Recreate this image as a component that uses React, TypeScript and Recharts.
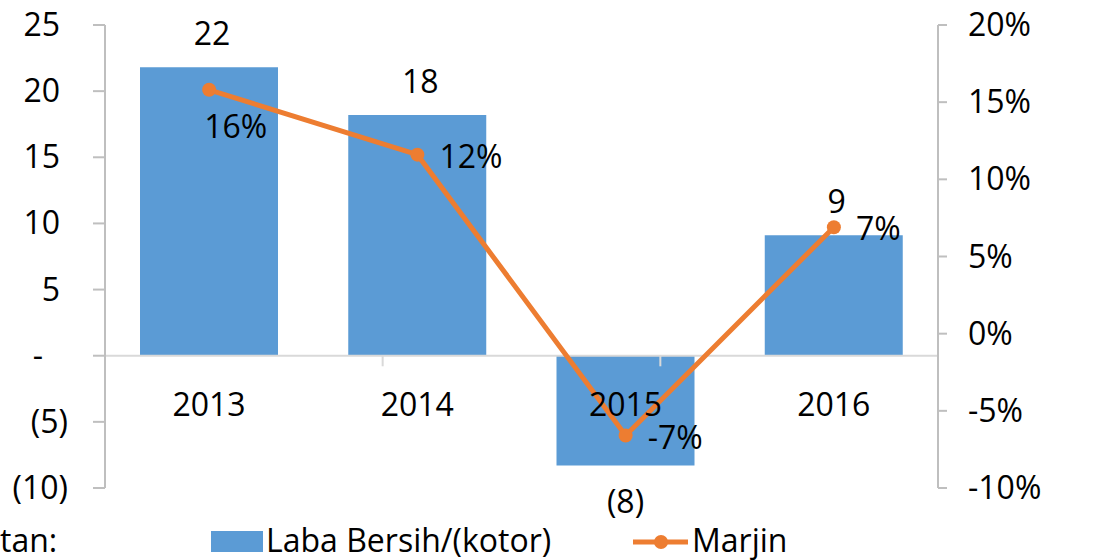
import React from 'react';
import {
  ComposedChart,
  Bar,
  Line,
  XAxis,
  YAxis,
  ReferenceLine,
  LabelList,
} from 'recharts';

const years = ['2013', '2014', '2015', '2016'];
const labaBersih = [21.8, 18.2, -8.3, 9.1];
const marjin = [0.158, 0.116, -0.066, 0.069];
const leftTicks = [-10, -5, 0, 5, 10, 15, 20, 25];
const rightTicks = [-0.1, -0.05, 0, 0.05, 0.1, 0.15, 0.2];
// category boundaries on the zero line (number axis 0..4 across the plot)
const boundaries = [1, 2, 3];

const data = years.map((year, i) => ({
  year,
  laba: labaBersih[i],
  marjin: marjin[i],
}));

const FONT = '"Open Sans", sans-serif';
const FS = 32;
const BLUE = '#5B9BD5';
const ORANGE = '#ED7D31';
const AXIS = '#BFBFBF';

const txt = { fontFamily: FONT, fontSize: FS, fill: '#000' };

// accounting style: positives end a bit left of the ")" column, zero is a dash
const LeftTick = (props: any) => {
  const { x, y, payload } = props;
  const v = payload.value;
  let label = String(v);
  let dx = -8;
  if (v === 0) {
    label = '-';
    dx = -25;
  } else if (v < 0) {
    label = `(${-v})`;
    dx = 0;
  }
  return (
    <text x={x + dx} y={y} dy={11} textAnchor="end" style={txt}>
      {label}
    </text>
  );
};

const RightTick = (props: any) => {
  const { x, y, payload } = props;
  return (
    <text x={x} y={y} dy={11} textAnchor="start" style={txt}>
      {`${Math.round(payload.value * 100)}%`}
    </text>
  );
};

const BarValueLabel = (props: any) => {
  const { x, y, width, height, value } = props;
  const cx = x + width / 2;
  if (value < 0) {
    const bottom = height > 0 ? y + height : y;
    return (
      <text x={cx} y={bottom + 47} textAnchor="middle" style={txt}>
        {`(${Math.round(-value)})`}
      </text>
    );
  }
  return (
    <text x={cx + 3} y={y - 22} textAnchor="middle" style={txt}>
      {Math.round(value)}
    </text>
  );
};

// year labels sit just under the zero line
const CategoryLabel = (props: any) => {
  const { x, y, width, height, value, index } = props;
  const zero = labaBersih[index] < 0 && height > 0 ? y : y + height;
  return (
    <text x={x + width / 2} y={zero + 60} textAnchor="middle" style={txt}>
      {value}
    </text>
  );
};

const MarjinLabel = (props: any) => {
  const { x, y, value, index } = props;
  const first = index === 0;
  return (
    <text
      x={x + (first ? -5 : 22)}
      y={y + (first ? 48 : 13)}
      textAnchor="start"
      style={txt}
    >
      {`${Math.round(value * 100)}%`}
    </text>
  );
};

export default function App() {
  return (
    <div style={{ position: 'absolute', left: 0, top: 0, width: 1116, height: 560 }}>
      <ComposedChart
        width={1116}
        height={560}
        data={data}
        margin={{ top: 25, right: 0, bottom: 72, left: 0 }}
      >
        <XAxis dataKey="year" hide />
        <XAxis xAxisId="num" type="number" domain={[0, 4]} hide />
        <YAxis
          yAxisId="left"
          width={105}
          domain={[-10, 25]}
          ticks={leftTicks}
          interval={0}
          axisLine={{ stroke: AXIS, strokeWidth: 2 }}
          tickLine={{ stroke: AXIS, strokeWidth: 2 }}
          tickSize={12}
          tickMargin={25}
          tick={<LeftTick />}
        />
        <YAxis
          yAxisId="right"
          orientation="right"
          width={178}
          domain={[-0.1, 0.2]}
          ticks={rightTicks}
          interval={0}
          axisLine={{ stroke: AXIS, strokeWidth: 2 }}
          tickLine={{ stroke: AXIS, strokeWidth: 2 }}
          tickSize={9}
          tickMargin={21}
          tick={<RightTick />}
        />
        <ReferenceLine yAxisId="left" y={0} stroke="#D9D9D9" strokeWidth={2} />
        {boundaries.map((b) => (
          <ReferenceLine
            key={b}
            xAxisId="num"
            yAxisId="left"
            segment={[
              { x: b, y: 0 },
              { x: b, y: -0.8 },
            ]}
            stroke="#D9D9D9"
            strokeWidth={2}
          />
        ))}
        <Bar
          yAxisId="left"
          dataKey="laba"
          fill={BLUE}
          barSize={138}
          isAnimationActive={false}
        >
          <LabelList dataKey="laba" content={<BarValueLabel />} />
          <LabelList dataKey="year" content={<CategoryLabel />} />
        </Bar>
        <Line
          yAxisId="right"
          dataKey="marjin"
          stroke={ORANGE}
          strokeWidth={5}
          dot={{ r: 7, fill: ORANGE, stroke: ORANGE, strokeWidth: 0 }}
          activeDot={false}
          isAnimationActive={false}
        >
          <LabelList dataKey="marjin" content={<MarjinLabel />} />
        </Line>
      </ComposedChart>
      <svg
        width={1116}
        height={60}
        style={{ position: 'absolute', left: 0, top: 500 }}
      >
        <text x={0} y={52} style={txt}>
          tan:
        </text>
        <rect x={211} y={31} width={52} height={21} fill={BLUE} />
        <text x={266} y={52} style={txt}>
          Laba Bersih/(kotor)
        </text>
        <line x1={633} x2={688} y1={42} y2={42} stroke={ORANGE} strokeWidth={5} />
        <circle cx={661} cy={42} r={7} fill={ORANGE} />
        <text x={692} y={52} style={txt}>
          Marjin
        </text>
      </svg>
    </div>
  );
}
